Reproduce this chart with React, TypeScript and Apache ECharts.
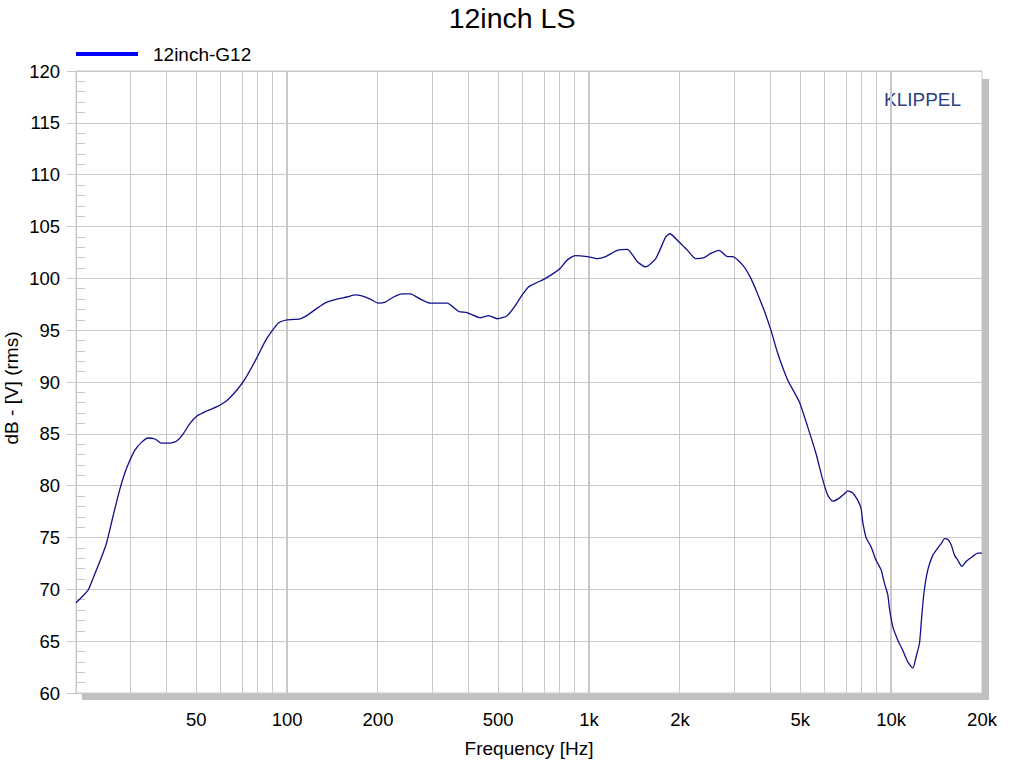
import React, { useEffect, useRef } from "react";
import * as echarts from "echarts";

const seriesName = "12inch-G12";
const chartTitle = "12inch LS";

const freqHz = [
  20, 21.9, 22.8, 24.0, 25.2, 26.5, 27.9, 29.0, 29.8, 31.3, 33.0, 34.7, 36.5, 38.4, 40.9, 43.1, 45.3, 47.7,
  50.2, 54.2, 58.4, 63.1, 68.1, 72.6, 79.3, 84.5, 89.0, 93.6, 100, 110.4, 116.2, 125.5, 135.4, 146.2, 157.8,
  168.1, 176.9, 188.5, 200.8, 211.3, 225.3, 240.2, 255.9, 276.2, 298.1, 338.6, 370, 394.5, 436.7, 465.3,
  496.1, 535.5, 570.5, 600.4, 631.4, 673.3, 708.1, 764.5, 804.6, 835.8, 868, 902, 986, 1065, 1134, 1240,
  1339, 1445, 1540, 1662, 1794, 1853, 1986, 2117, 2256, 2403, 2529, 2695, 2873, 2985, 3222, 3434, 3614,
  3800, 4000, 4210, 4545, 4965, 5292, 5641, 5935, 6166, 6404, 6737, 7000, 7185, 7464, 7754, 7953, 8056,
  8262, 8583, 8917, 9265, 9502, 9750, 9871, 10130, 10525, 10934, 11360, 11803, 12105, 12416, 12577, 12840,
  13236, 13751, 14287, 14652, 15026, 15421, 15812, 16218, 16643, 17160, 17735, 18664, 19393, 20000,
];

const levelDb = [
  68.7, 69.9, 71.1, 72.7, 74.4, 77.0, 79.6, 81.2, 82.1, 83.4, 84.2, 84.6, 84.5, 84.1, 84.1, 84.3, 85.0, 86.0,
  86.7, 87.2, 87.6, 88.2, 89.2, 90.3, 92.3, 93.9, 94.9, 95.7, 96.0, 96.1, 96.4, 97.1, 97.7, 98.0, 98.2,
  98.4, 98.3, 98.0, 97.6, 97.7, 98.2, 98.5, 98.5, 98.0, 97.6, 97.6, 96.8, 96.7, 96.2, 96.4,
  96.1, 96.4, 97.4, 98.4, 99.2, 99.6, 99.9, 100.5, 101.0, 101.6, 102.0, 102.2, 102.1, 101.9, 102.1, 102.7,
  102.8, 101.6, 101.1, 101.9, 104.0, 104.3, 103.5, 102.7, 101.9, 102.0, 102.4, 102.7, 102.1, 102.1, 101.3, 100.0, 98.5,
  96.9, 95.0, 92.8, 90.2, 88.1, 85.7, 83.1, 80.6, 79.1, 78.5, 78.8, 79.2, 79.5, 79.3, 78.6, 77.8, 76.5,
  75.0, 74.1, 72.8, 71.9, 70.6, 69.5, 68.2, 66.4, 65.1, 64.1, 63.0, 62.4, 63.5, 64.8, 66.7, 69.6,
  71.9, 73.3, 74.0, 74.4, 74.9, 74.8, 74.3, 73.3, 72.8, 72.2, 72.7, 73.2, 73.5, 73.5,
];

const xLabelFreqs = [50, 100, 200, 500, 1000, 2000, 5000, 10000, 20000];
const minorGridFreqs = [
  30, 40, 50, 60, 70, 80, 90, 200, 300, 400, 500, 600, 700, 800, 900, 2000, 3000, 4000, 5000, 6000, 7000,
  8000, 9000,
];
const decadeGridFreqs = [100, 1000, 10000];
const freqMin = 20;
const freqMax = 20000;
const dbMin = 60;
const dbMax = 120;
const dbStep = 5;

const FONT = "'Liberation Sans', Arial, sans-serif";
const GRID = "#c8c8c8";

const fmtFreq = (f: number) => (f >= 1000 ? f / 1000 + "k" : String(f));

export default function App() {
  const ref = useRef<HTMLDivElement>(null);

  useEffect(() => {
    if (!ref.current) return;
    const chart = echarts.init(ref.current, undefined, { renderer: "svg" });
    const lg = Math.log10;
    const lineData = freqHz.map((f, i) => [lg(f), levelDb[i]]);

    chart.setOption({
      animation: false,
      textStyle: { fontFamily: FONT },
      title: {
        text: chartTitle,
        left: "center",
        top: 3,
        padding: 0,
        textStyle: { fontSize: 28.5, fontWeight: "normal", color: "#000", fontFamily: FONT },
      },
      legend: {
        left: 71,
        top: 39,
        itemWidth: 62,
        itemHeight: 4,
        data: [{ name: seriesName, icon: "rect", itemStyle: { color: "#0000ff" } }],
        textStyle: { fontSize: 19, color: "#000", fontFamily: FONT, lineHeight: 20, padding: [0, 0, 0, 10] },
        selectedMode: false,
      },
      grid: {
        left: 76,
        right: 42,
        top: 71,
        bottom: 75,
        show: true,
        borderColor: GRID,
        borderWidth: 1,
        backgroundColor: "#fff",
        containLabel: false,
        outerBoundsMode: "none",
      },
      xAxis: {
        type: "value",
        min: lg(freqMin),
        max: lg(freqMax),
        name: "Frequency [Hz]",
        nameLocation: "middle",
        nameGap: 46,
        nameMoveOverlap: false,
        nameTextStyle: { fontSize: 19, color: "#000", fontFamily: FONT },
        axisLine: { show: false },
        axisTick: { show: false },
        splitLine: { show: false },
        axisLabel: {
          customValues: xLabelFreqs.map(lg),
          formatter: (v: number) => fmtFreq(Math.round(Math.pow(10, v))),
          fontSize: 18.5,
          color: "#000",
          margin: 17,
          fontFamily: FONT,
        },
      },
      yAxis: [
        {
          type: "value",
          min: dbMin,
          max: dbMax,
          interval: dbStep,
          name: "dB - [V] (rms)",
          nameLocation: "middle",
          nameGap: 55,
          nameMoveOverlap: false,
          nameRotate: 90,
          nameTextStyle: { fontSize: 19, color: "#000", fontFamily: FONT, padding: [0, 12, 0, 0] },
          axisLine: { show: true, lineStyle: { color: GRID } },
          axisTick: { show: true, length: 9, lineStyle: { color: GRID } },
          splitLine: { show: true, lineStyle: { color: GRID, width: 1 } },
          axisLabel: { fontSize: 18.5, color: "#000", margin: 16, fontFamily: FONT },
        },
        {
          type: "value",
          min: dbMin,
          max: dbMax,
          interval: 1,
          position: "left",
          offset: 0,
          axisLine: { show: false },
          axisTick: { show: true, inside: true, length: 9, lineStyle: { color: GRID } },
          splitLine: { show: false },
          axisLabel: { show: false },
        },
      ],
      graphic: [
        { type: "rect", shape: { x: 982, y: 79, width: 7, height: 621 }, style: { fill: "#c0c0c0" }, z: 0 },
        { type: "rect", shape: { x: 82, y: 694, width: 907, height: 6 }, style: { fill: "#c0c0c0" }, z: 0 },
        {
          type: "text",
          x: 884,
          y: 99,
          style: {
            text: "KLIPPEL",
            fontSize: 19,
            fontFamily: FONT,
            fill: "#2c4282",
            verticalAlign: "middle",
            align: "left",
          },
        },
      ],
      series: [
        {
          name: "gridlines",
          type: "line",
          data: [[lg(freqMin), dbMin]],
          symbol: "none",
          lineStyle: { opacity: 0 },
          z: 1,
          silent: true,
          markLine: {
            silent: true,
            symbol: ["none", "none"],
            label: { show: false },
            emphasis: { disabled: true },
            lineStyle: { color: GRID, type: "solid", width: 1 },
            data: [
              ...minorGridFreqs.map((f) => ({ xAxis: lg(f), lineStyle: { color: GRID, width: 1, type: "solid" } })),
              ...decadeGridFreqs.map((f) => ({ xAxis: lg(f), lineStyle: { color: GRID, width: 2, type: "solid" } })),
            ],
          },
        },
        {
          name: seriesName,
          type: "line",
          data: lineData,
          symbol: "none",
          showSymbol: false,
          smooth: 0.2,
          lineStyle: { color: "#10108c", width: 1.3 },
          itemStyle: { color: "#10108c" },
          z: 5,
        },
      ],
    });

    return () => chart.dispose();
  }, []);

  return <div ref={ref} style={{ position: "absolute", left: 0, top: 0, width: 1024, height: 768 }} />;
}
